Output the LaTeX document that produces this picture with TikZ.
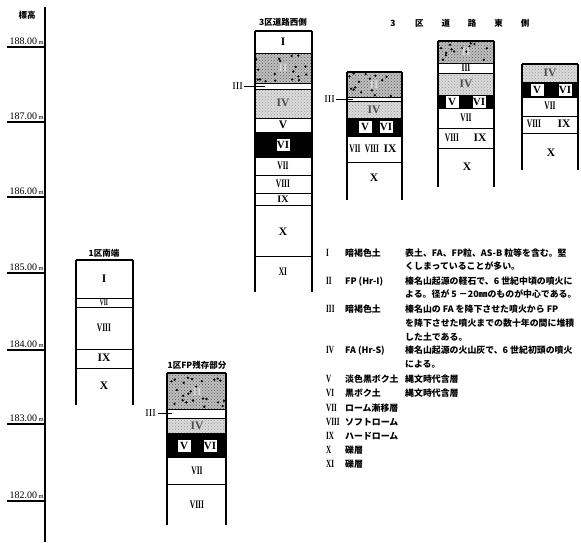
\documentclass[tikz,border=0pt]{standalone}
\usepackage{fontspec}
\setmainfont{Liberation Serif}
\newfontfamily\jp{Noto Sans CJK JP}
\usetikzlibrary{patterns}

% narrow roman numerals
\newcommand\rn[1]{\scalebox{0.65}[1]{#1}}

\tikzset{
  side/.style={line width=1.3pt},
  rule/.style={line width=0.9pt},
  axis/.style={line width=1.2pt},
  lay/.style={font=\bfseries\fontsize{11.5}{11.5}\selectfont, inner sep=0pt},
  laysm/.style={font=\fontsize{10.5}{10.5}\selectfont, inner sep=0pt},
  vbox/.style={draw=black, fill=white, line width=0.6pt, inner sep=0pt,
    minimum width=14pt, minimum height=13pt, font=\bfseries\fontsize{11}{11}\selectfont},
  ashfill/.style={preaction={fill=gray!28}, pattern=crosshatch dots, pattern color=gray!80},
  pumfill/.style={preaction={fill=gray!50}, pattern=crosshatch dots, pattern color=black!65},
  ttl/.style={font=\jp\bfseries\fontsize{8.5}{8.5}\selectfont, inner sep=0pt},
  lg/.style={font=\jp\bfseries\fontsize{8.9}{8.9}\selectfont, inner sep=0pt, anchor=base west},
  lgn/.style={font=\bfseries\fontsize{11}{11}\selectfont, inner sep=0pt, anchor=base west},
  tick/.style={font=\fontsize{10}{10}\selectfont, inner sep=0pt, anchor=base east},
}

% column frame: x1, x2, top, bottom of sides, list of layer boundaries
\newcommand\colframe[5]{%
  \draw[side] (#1,#3) -- (#2,#3);
  \foreach \yy in {#5} {\draw[rule] (#1,\yy) -- (#2,\yy);}
  \draw[side] (#1,#3) -- (#1,#4);
  \draw[side] (#2,#3) -- (#2,#4);}

% pumice layer: x1, y1, x2, y2, number of grains
\newcommand\pumice[5]{%
  \fill[pumfill] (#1,#2) rectangle (#3,#4);
  \begin{scope}
    \clip (#1,#2) rectangle (#3,#4);
    \foreach \k in {1,...,#5}{%
      \pgfmathsetmacro\px{#1+1+rnd*(#3-#1-2)}%
      \pgfmathsetmacro\py{#2+1+rnd*(#4-#2-2)}%
      \fill (\px,\py) circle[radius=1.3pt];}
  \end{scope}}

\begin{document}
\begin{tikzpicture}[x=1pt,y=-1pt]
\useasboundingbox (0,0) rectangle (581,542);
\pgfmathsetseed{7}

% ---------- elevation axis ----------
\draw[axis] (45,7) -- (45,542);
\node[font=\jp\bfseries\fontsize{8.5}{8.5}\selectfont, inner sep=0pt] (axt) at (27,15) {標高};
\foreach \h/\yy in {188/47,187/122,186/197,185/273,184/350,183/424,182/501}{
  \draw[axis] (7,\yy) -- (45,\yy);
  \node[tick] (tk\h) at (44,\yy-3) {\h.00\,{\fontsize{6.5}{6.5}\selectfont m}};
}

% ---------- 1区南端 ----------
\node[ttl] (t1) at (104,253) {1区南端};
\colframe{76}{133}{260}{405}{298,307,349,368}
\node[lay] (a1) at (104,279) {I};
\node[lay] (a7) at (104,302.5) {\fontsize{8.5}{8.5}\selectfont\rn{VII}};
\node[lay] (a8) at (104,328) {\rn{VIII}};
\node[lay] (a9) at (104,358) {IX};
\node[lay] (a10) at (104,386) {X};

% ---------- 1区FP残存部分 ----------
\node[ttl] (t2) at (197,365) {1区FP残存部分};
\pumice{167}{373}{226}{409}{24}
\fill[ashfill] (167,418) rectangle (226,433);
\fill[black] (167,433) rectangle (226,457);
\colframe{167}{226}{373}{525}{409,418,433,457,484}
\node[lay, text=white!85!black] (b2) at (197,392) {II};
\node[lay, text=black!70] (b4) at (197,426) {IV};
\node[vbox] (b5) at (184,446) {V};
\node[vbox] (b6) at (210,446) {VI};
\node[lay] (b7) at (197,471) {\rn{VII}};
\node[lay] (b8) at (197,505) {\rn{VIII}};
\node[laysm, anchor=east] (b3) at (156,413) {III};
\draw[line width=0.7pt] (b3.east) ++(2,0) -- (172,413);

% ---------- 3区道路西側 ----------
\node[ttl] (t3) at (283,22) {3区道路西側};
\pumice{255}{53}{312}{83}{18}
\fill[ashfill] (255,89) rectangle (312,118);
\fill[black] (255,132) rectangle (312,157);
\colframe{255}{312}{31}{292}{53,83,89,118,132,157,175,193,205,256}
\node[lay] (c1) at (283,42) {I};
\node[lay, text=white!85!black] (c2) at (283,68) {II};
\node[lay, text=black!70] (c4) at (283,103) {IV};
\node[lay] (c5) at (283,125) {V};
\node[vbox] (c6) at (283,145) {VI};
\node[lay] (c7) at (283,166) {\rn{VII}};
\node[lay] (c8) at (283,184) {\rn{VIII}};
\node[lay] (c9) at (283,199) {\fontsize{10}{10}\selectfont IX};
\node[lay] (c10) at (283,232) {X};
\node[lay] (c11) at (283,272) {\rn{XI}};
\node[laysm, anchor=east] (c3) at (243,86) {III};
\draw[line width=0.7pt] (c3.east) ++(1,0) -- (265,86);

% ---------- 3区道路東側 ----------
\foreach \ch [count=\i from 0] in {3,区,道,路,東,側}{
  \node[ttl] (te\i) at (393+26.4*\i,23) {\ch};
}

% column 4
\pumice{347}{72}{402}{97}{15}
\fill[ashfill] (347,101) rectangle (402,118);
\fill[black] (347,118) rectangle (402,136);
\colframe{347}{402}{72}{200}{97,101,118,136,162}
\node[lay, text=white!85!black] (d2) at (374,85) {II};
\node[lay, text=black!70] (d4) at (374,110) {IV};
\node[vbox] (d5) at (365,127) {V};
\node[vbox] (d6) at (386,127) {VI};
\node[lay] (d7) at (355,149) {\rn{VII}};
\node[lay] (d8) at (372,149) {\rn{VIII}};
\node[lay] (d9) at (390,149) {IX};
\node[lay] (d10) at (374,178) {X};
\node[laysm, anchor=east] (d3) at (335,99) {III};
\draw[line width=0.7pt] (d3.east) ++(1,0) -- (353,99);

% column 5
\pumice{438}{41}{494}{63}{14}
\fill[ashfill] (438,73) rectangle (494,95);
\fill[black] (438,95) rectangle (494,108);
\colframe{438}{494}{41}{187}{63,73,95,108,128,148}
\node[lay, text=white!85!black] (e2) at (466,52) {II};
\node[lay] (e3) at (466,68) {\rn{III}};
\node[lay, text=black!70] (e4) at (466,84) {IV};
\node[vbox] (e5) at (452,102) {V};
\node[vbox] (e6) at (479,102) {VI};
\node[lay] (e7) at (466,118) {\rn{VII}};
\node[lay] (e8) at (452,138) {\rn{VIII}};
\node[lay] (e9) at (480,138) {IX};
\node[lay] (e10) at (467,167) {X};

% column 6
\fill[ashfill] (522,64) rectangle (578,82);
\fill[black] (522,82) rectangle (578,97);
\colframe{522}{578}{64}{170}{82,97,116,133}
\node[lay, text=black!70] (f4) at (550,73) {IV};
\node[vbox] (f5) at (537,90) {V};
\node[vbox] (f6) at (565,90) {VI};
\node[lay] (f7) at (550,106) {\rn{VII}};
\node[lay] (f8) at (534,124) {\rn{VIII}};
\node[lay] (f9) at (564,124) {IX};
\node[lay] (f10) at (551,153) {X};

% ---------- legend ----------
\foreach \n/\yy/\term in {I/256/暗褐色土, II/284/FP (Hr-I), III/312/暗褐色土,
    IV/353/FA (Hr-S), V/382/淡色黒ボク土, VI/396/黒ボク土, VII/411/ローム漸移層,
    VIII/425/ソフトローム, IX/439/ハードローム, X/453/礫層, XI/467/礫層}{
  \node[lgn] (ln\n) at (326,\yy) {\rn{\n}};
  \node[lg] (lt\n) at (345,\yy) {\term};
}
\node[lg] (ld1) at (405,256) {表土、FA、FP粒、AS-B 粒等を含む。堅};
\node[lg] (ld2) at (405,269) {くしまっていることが多い。};
\node[lg] (ld3) at (405,284) {榛名山起源の軽石で、6 世紀中頃の噴火に};
\node[lg] (ld4) at (405,297) {よる。径が 5 －20㎜のものが中心である。};
\node[lg] (ld5) at (405,312) {榛名山の FA を降下させた噴火から FP};
\node[lg] (ld6) at (405,326) {を降下させた噴火までの数十年の間に堆積};
\node[lg] (ld7) at (405,340) {した土である。};
\node[lg] (ld8) at (405,353) {榛名山起源の火山灰で、6 世紀初頭の噴火};
\node[lg] (ld9) at (405,367) {による。};
\node[lg] (ld10) at (405,382) {縄文時代含層};
\node[lg] (ld11) at (405,396) {縄文時代含層};
\end{tikzpicture}
\end{document}
